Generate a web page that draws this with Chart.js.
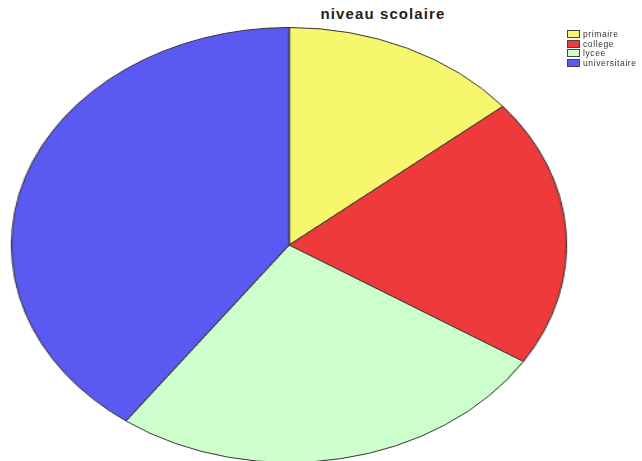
<!DOCTYPE html>
<html>
<head>
<meta charset="utf-8">
<script src="https://cdn.jsdelivr.net/npm/chart.js@4/dist/chart.umd.min.js"></script>
<style>
  html, body { margin: 0; padding: 0; background: #fff; overflow: hidden; width: 642px; height: 461px; }
  #title { position: absolute; left: 283px; top: 5px; width: 200px; text-align: center;
    font: bold 15px "Liberation Sans", Arial, sans-serif; letter-spacing: 1.1px; color: #222; }
  #pieWrap { position: absolute; left: 71px; top: 27px; width: 436px; height: 436px;
    transform: scaleX(1.276); transform-origin: 50% 50%; }
  #legend { position: absolute; left: 567px; top: 30px; font: 8.5px "Liberation Sans", Arial, sans-serif; letter-spacing: 0.6px; color: #333; }
  #legend div { height: 9.5px; line-height: 9px; white-space: nowrap; }
  #legend span { display: inline-block; width: 11px; height: 6px; border: 1px solid #444; vertical-align: -1px; margin-right: 3px; }
</style>
</head>
<body>
<div id="title">niveau scolaire</div>
<div id="pieWrap"><canvas id="pie"></canvas></div>
<div id="legend"></div>
<script>
const labels = ['primaire', 'college', 'lycee', 'universitaire'];
const values = [14, 20, 26, 40];
const colors = ['#f7f76e', '#ee3a3a', '#ccffcc', '#5a5af2'];

// legend as plain text next to the pie
const legend = document.getElementById('legend');
labels.forEach((name, i) => {
    const row = document.createElement('div');
    row.innerHTML = '<span style="background:' + colors[i] + '"></span>' + name;
    legend.appendChild(row);
});

const ctx = document.getElementById('pie').getContext('2d');
new Chart(ctx, {
    type: 'pie',
    data: {
        labels: labels,
        datasets: [{
            data: values,
            backgroundColor: colors,
            borderColor: '#333',
            borderWidth: 1,
        }],
    },
    options: {
        responsive: true,
        maintainAspectRatio: false,
        animation: false,
        layout: { padding: 0 },
        plugins: {
            legend: { display: false },
            title: { display: false },
            tooltip: { enabled: false },
        },
    },
});
</script>
</body>
</html>
